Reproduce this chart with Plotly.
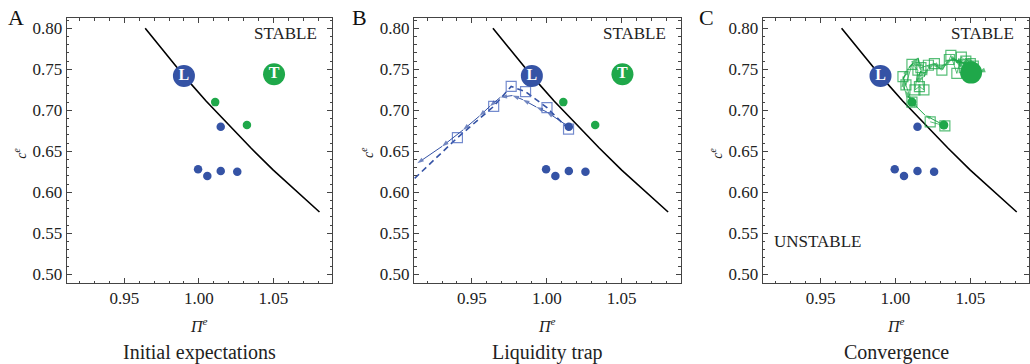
import plotly.graph_objects as go

# ---------------- data ----------------
# boundary curve (black)
curve_x = [0.964, 0.975, 0.990, 1.005, 1.020, 1.035, 1.050, 1.065, 1.081]
curve_y = [0.800, 0.775, 0.742, 0.711, 0.682, 0.654, 0.627, 0.602, 0.576]

# initial expectations
blue_x = [1.0147, 0.9995, 1.0057, 1.0147, 1.0258]
blue_y = [0.680, 0.628, 0.620, 0.626, 0.625]
green_x = [1.011, 1.0323]
green_y = [0.710, 0.682]

L_x, L_y = [0.990], [0.742]
T_x, T_y = [1.0505], [0.744]

# panel B: liquidity trap trajectories
trapexp_x = [1.0147, 1.000, 0.993, 0.984, 0.977, 0.969, 0.962, 0.955, 0.944, 0.930, 0.9135]
trapexp_y = [0.680, 0.698, 0.704, 0.713, 0.718, 0.716, 0.705, 0.693, 0.676, 0.656, 0.6354]
trapsq_x = [1.0145, 1.0001, 0.9858, 0.9762, 0.9645, 0.9403]
trapsq_y = [0.677, 0.7032, 0.7227, 0.7292, 0.7048, 0.6666]
trapdash_x = [1.0145, 1.0001, 0.9858, 0.9762, 0.9645, 0.9403, 0.910]
trapdash_y = [0.677, 0.7032, 0.7227, 0.7292, 0.7048, 0.6666, 0.614]

# panel C: convergence trajectories
convexp_x = [1.011, 1.006, 1.005, 1.009, 1.015, 1.017, 1.014, 1.019, 1.022, 1.026, 1.030,
             1.034, 1.038, 1.042, 1.046, 1.050, 1.054, 1.058, 1.055, 1.051,
             1.044, 1.040, 1.047, 1.053, 1.049, 1.055, 1.052]
convexp_y = [0.710, 0.725, 0.738, 0.752, 0.764, 0.748, 0.735, 0.741, 0.752, 0.757, 0.750,
             0.758, 0.763, 0.760, 0.757, 0.754, 0.751, 0.748, 0.746, 0.747,
             0.755, 0.760, 0.762, 0.758, 0.752, 0.750, 0.748]
convsq_x = [1.011, 1.005, 1.007, 1.011, 1.015, 1.013, 1.016, 1.019, 1.017, 1.022, 1.026, 1.031,
            1.036, 1.037, 1.041, 1.044, 1.047, 1.050, 1.046, 1.052, 1.049]
convsq_y = [0.710, 0.741, 0.731, 0.756, 0.749, 0.725, 0.729, 0.725, 0.752, 0.755, 0.757, 0.749,
            0.762, 0.767, 0.745, 0.765, 0.760, 0.757, 0.752, 0.754, 0.750]
conv2exp_x = [1.0323, 1.0198, 1.0110]
conv2exp_y = [0.682, 0.694, 0.710]
conv2sq_x = [1.0330, 1.0232]
conv2sq_y = [0.681, 0.686]
convend_x, convend_y = [1.0505], [0.746]

x_ticks = [0.95, 1.00, 1.05]
x_ticklabels = ["0.95", "1.00", "1.05"]
y_ticks = [0.50, 0.55, 0.60, 0.65, 0.70, 0.75, 0.80]
y_ticklabels = ["0.50", "0.55", "0.60", "0.65", "0.70", "0.75", "0.80"]

panel_letters = ["A", "B", "C"]
subtitles = ["Initial expectations", "Liquidity trap", "Convergence"]

# ---------------- style ----------------
BLUE = "#3553A5"
BLUE_L = "rgba(70,100,190,0.75)"
GREEN = "#1FA84A"
GREEN_L = "rgba(31,168,74,0.75)"
SERIF = "Liberation Serif"
W, H = 1030, 364
x_dom = [(66.7, 332.0), (414.0, 680.7), (762.7, 1029.3)]
y_top, y_bot = 18.0, 283.0

fig = go.Figure()


def axn(i, kind):
    return kind if i == 0 else f"{kind}{i + 1}"


def add(i, tr):
    tr.update(xaxis=axn(i, "x"), yaxis=axn(i, "y"), showlegend=False, hoverinfo="skip")
    fig.add_trace(tr)


def common_dots(i, with_green=True):
    add(i, go.Scatter(x=blue_x, y=blue_y, mode="markers",
                      marker=dict(size=8.5, color=BLUE, line=dict(width=0))))
    if with_green:
        add(i, go.Scatter(x=green_x, y=green_y, mode="markers",
                          marker=dict(size=8.5, color=GREEN, line=dict(width=0))))


def arrow_path(i, xs, ys, color, size=7, width=1):
    syms = ["circle"] + ["arrow"] * (len(xs) - 1)
    sizes = [0] + [size] * (len(xs) - 1)
    add(i, go.Scatter(x=xs, y=ys, mode="lines+markers",
                      line=dict(color=color, width=width),
                      marker=dict(symbol=syms, size=sizes, color=color, angleref="previous",
                                  line=dict(width=0))))


def big_circle(i, x, y, color, label):
    add(i, go.Scatter(x=x, y=y, mode="markers+text" if label else "markers",
                      text=[label] if label else None, textposition="middle center",
                      textfont=dict(family=SERIF, size=16, color="white"),
                      marker=dict(size=22, color=color, line=dict(width=0))))


for i in range(3):
    add(i, go.Scatter(x=curve_x, y=curve_y, mode="lines", line=dict(color="black", width=1.6)))

# Panel A
common_dots(0)
big_circle(0, L_x, L_y, BLUE, "<b>L</b>")
big_circle(0, T_x, T_y, GREEN, "<b>T</b>")

# Panel B
add(1, go.Scatter(x=trapdash_x, y=trapdash_y, mode="lines",
                  line=dict(color=BLUE, width=1.6, dash="6px,4px")))
add(1, go.Scatter(x=trapsq_x, y=trapsq_y, mode="markers",
                  marker=dict(symbol="square-open", size=10, color=BLUE_L, line=dict(width=1.2))))
arrow_path(1, trapexp_x, trapexp_y, BLUE, size=7, width=1)
common_dots(1)
big_circle(1, L_x, L_y, BLUE, "<b>L</b>")
big_circle(1, T_x, T_y, GREEN, "<b>T</b>")

# Panel C
common_dots(2)
add(2, go.Scatter(x=convsq_x, y=convsq_y, mode="lines+markers",
                  line=dict(color=GREEN_L, width=1),
                  marker=dict(symbol="square-open", size=10, color=GREEN_L, line=dict(width=1.2))))
add(2, go.Scatter(x=conv2sq_x, y=conv2sq_y, mode="lines+markers",
                  line=dict(color=GREEN_L, width=1),
                  marker=dict(symbol="square-open", size=10, color=GREEN_L, line=dict(width=1.2))))
arrow_path(2, convexp_x, convexp_y, GREEN, size=8, width=1.5)
arrow_path(2, conv2exp_x, conv2exp_y, GREEN, size=6, width=1)
add(2, go.Scatter(x=green_x, y=green_y, mode="markers",
                  marker=dict(size=9, color=GREEN, line=dict(width=0))))
big_circle(2, convend_x, convend_y, GREEN, None)
big_circle(2, L_x, L_y, BLUE, "<b>L</b>")

# ---------------- axes ----------------
ydom = [1 - y_bot / H, 1 - y_top / H]
tickfont = dict(family=SERIF, size=17, color="#222")
annotations = []
for i in range(3):
    xd = [x_dom[i][0] / W, x_dom[i][1] / W]
    xa = dict(domain=xd, range=[0.9113, 1.0894], tickvals=x_ticks, ticktext=x_ticklabels,
              ticks="inside", ticklen=5, tickwidth=1, tickcolor="#444",
              minor=dict(dtick=0.01, tick0=0.95, ticks="inside", ticklen=2.5, tickcolor="#444", tickwidth=1),
              showline=True, linecolor="#444", linewidth=1, mirror="ticks",
              showgrid=False, zeroline=False, tickfont=tickfont, anchor=axn(i, "y"),
              fixedrange=True)
    ya = dict(domain=ydom, range=[0.4894, 0.8126], tickvals=y_ticks, ticktext=y_ticklabels,
              ticks="inside", ticklen=5, tickwidth=1, tickcolor="#444",
              minor=dict(dtick=0.01, tick0=0.5, ticks="inside", ticklen=2.5, tickcolor="#444", tickwidth=1),
              showline=True, linecolor="#444", linewidth=1, mirror="ticks",
              showgrid=False, zeroline=False, tickfont=tickfont, anchor=axn(i, "x"),
              fixedrange=True)
    fig.layout["xaxis" if i == 0 else f"xaxis{i + 1}"] = xa
    fig.layout["yaxis" if i == 0 else f"yaxis{i + 1}"] = ya

    cx = (x_dom[i][0] + x_dom[i][1]) / 2 / W
    # x title
    annotations.append(dict(x=cx, y=1 - 325 / H, xref="paper", yref="paper",
                            xanchor="center", yanchor="middle",
                            text="<i>Π<sup>e</sup></i>", showarrow=False,
                            font=dict(family=SERIF, size=16, color="#222")))
    # subtitle
    annotations.append(dict(x=cx, y=1 - 352 / H, xref="paper", yref="paper",
                            xanchor="center", yanchor="middle",
                            text=subtitles[i], showarrow=False,
                            font=dict(family=SERIF, size=20, color="#222")))
    # y title
    annotations.append(dict(x=(x_dom[i][0] - 47) / W, y=1 - 153 / H, xref="paper", yref="paper",
                            xanchor="center", yanchor="middle",
                            text="<i>c<sup>e</sup></i>", showarrow=False, textangle=-90,
                            font=dict(family=SERIF, size=14, color="#222")))
    # panel letter
    lx = [16, 359, 706][i]
    annotations.append(dict(x=lx / W, y=1 - 17 / H, xref="paper", yref="paper",
                            xanchor="center", yanchor="middle",
                            text=panel_letters[i], showarrow=False,
                            font=dict(family=SERIF, size=22, color="#111")))
    # STABLE
    annotations.append(dict(x=1.0807, y=0.7939, xref=axn(i, "x"), yref=axn(i, "y"),
                            text="STABLE", showarrow=False, xanchor="right", yanchor="middle",
                            font=dict(family=SERIF, size=17, color="#222")))

annotations.append(dict(x=0.9176, y=0.5398, xref="x3", yref="y3", text="UNSTABLE",
                        showarrow=False, xanchor="left", yanchor="middle",
                        font=dict(family=SERIF, size=17, color="#222")))

fig.update_layout(width=W, height=H, margin=dict(l=0, r=0, t=0, b=0),
                  paper_bgcolor="white", plot_bgcolor="white",
                  annotations=annotations, showlegend=False)

fig.write_html("out.html")
